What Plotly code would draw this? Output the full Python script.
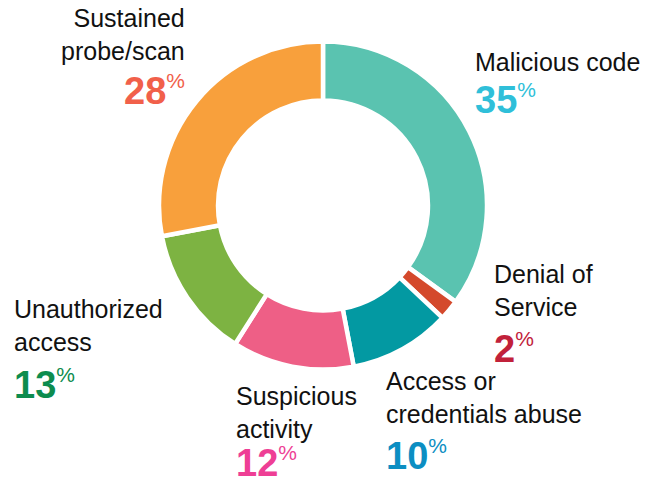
import plotly.graph_objects as go

W, H = 649, 483

categories = ["Malicious code", "Denial of Service", "Access or credentials abuse",
              "Suspicious activity", "Unauthorized access", "Sustained probe/scan"]
label_text = ["Malicious code", "Denial of<br>Service", "Access or<br>credentials abuse",
              "Suspicious<br>activity", "Unauthorized<br>access", "Sustained<br>probe/scan"]
values = [35, 2, 10, 12, 13, 28]
slice_colors = ["#5ac3b0", "#d4492c", "#0399a2", "#ee5f86", "#7db342", "#f8a03c"]
pct_colors = ["#2fbfd9", "#c1213a", "#0c8ec2", "#ee3f95", "#0d8c4e", "#f1604a"]

# label layout (pixel positions): x, y of label block, y of percent, anchor
label_pos = [
    (473, 62, 100, "left"),
    (492, 290, 348, "left"),
    (384, 397, 455, "left"),
    (234, 412, 462, "left"),
    (12, 325, 384, "left"),
    (187, 35, 90, "right"),
]

def px(x):
    return x / W

def py(y):
    return 1 - y / H

fig = go.Figure(go.Pie(
    labels=categories,
    values=values,
    sort=False,
    direction="clockwise",
    rotation=0,
    hole=0.64,
    textinfo="none",
    hoverinfo="label+percent",
    marker=dict(colors=slice_colors, line=dict(color="white", width=4.5)),
    domain=dict(x=[px(159), px(487)], y=[py(369.5), py(41.5)]),
    showlegend=False,
))

FONT = "Liberation Sans, Arial, Helvetica, sans-serif"
annotations = []
for txt, v, col, (x, yl, yp, anc) in zip(label_text, values, pct_colors, label_pos):
    annotations.append(dict(
        x=px(x), y=py(yl), xref="paper", yref="paper",
        xanchor=anc, yanchor="middle", align=anc, showarrow=False,
        text=txt, font=dict(family=FONT, size=25, color="#111111"),
    ))
    annotations.append(dict(
        x=px(x), y=py(yp), xref="paper", yref="paper",
        xanchor=anc, yanchor="middle", align=anc, showarrow=False,
        text=f"<b>{v}</b><sup><span style='font-size:21px'>%</span></sup>",
        font=dict(family=FONT, size=38, color=col),
    ))

fig.update_layout(
    width=W, height=H,
    margin=dict(l=0, r=0, t=0, b=0),
    paper_bgcolor="white", plot_bgcolor="white",
    annotations=annotations,
)

fig.write_html("out.html", config={"displayModeBar": False},
               post_script="document.body.style.margin='0';")
